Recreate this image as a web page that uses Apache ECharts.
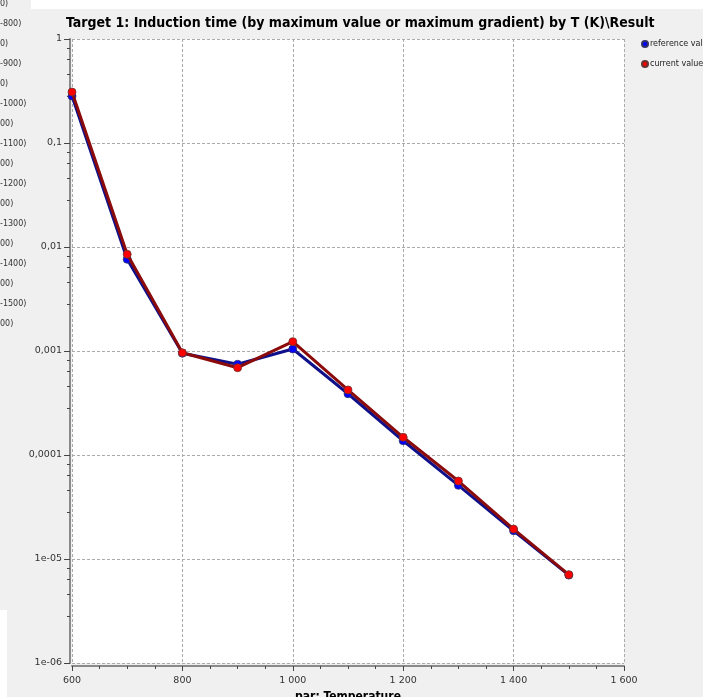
<!DOCTYPE html>
<html>
<head>
<meta charset="utf-8">
<script src="https://cdn.jsdelivr.net/npm/echarts@6/dist/echarts.min.js"></script>
<style>
html,body{margin:0;padding:0;background:#f0f0f0;}
#chart{width:703px;height:697px;}
</style>
</head>
<body>
<div id="chart"></div>
<script>
const temperatures = [600, 700, 800, 900, 1000, 1100, 1200, 1300, 1400, 1500];
const referenceValues = [0.283, 0.00762, 0.000952, 0.000745, 0.001045, 0.000388, 0.000137, 5.11e-5, 1.87e-5, 7.0e-6];
const currentValues = [0.309, 0.00851, 0.000962, 0.000691, 0.00123, 0.000422, 0.000148, 5.62e-5, 1.94e-5, 7.07e-6];
const yTickValues = [1, 0.1, 0.01, 0.001, 0.0001, 1e-5, 1e-6];
const yTickLabels = ["1", "0,1", "0,01", "0,001", "0,0001", "1e-05", "1e-06"];
const xTickValues = [600, 800, 1000, 1200, 1400, 1600];
const xTickLabels = ["600", "800", "1 000", "1 200", "1 400", "1 600"];
const sideLabels = ["0)", "-800)", "0)", "-900)", "0)", "-1000)", "00)", "-1100)", "00)", "-1200)", "00)", "-1300)", "00)", "-1400)", "00)", "-1500)", "00)"];

const chart = echarts.init(document.getElementById('chart'), null, {renderer: 'canvas'});

function yLabel(v) {
  for (let i = 0; i < yTickValues.length; i++) {
    if (Math.abs(Math.log10(v) - Math.log10(yTickValues[i])) < 1e-6) return yTickLabels[i];
  }
  return '';
}
function xLabel(v) {
  const i = xTickValues.indexOf(v);
  return i >= 0 ? xTickLabels[i] : '';
}

const graphics = [
  {type: 'rect', shape: {x: 31, y: 0, width: 672, height: 9}, style: {fill: '#ffffff'}},
  {type: 'rect', shape: {x: 0, y: 610, width: 7, height: 87}, style: {fill: '#ffffff'}}
];
sideLabels.forEach((t, i) => {
  graphics.push({
    type: 'text', x: 0, y: 0 + i * 20,
    style: {text: t, fill: '#333', font: '8px "DejaVu Sans"'}
  });
});

const lblFont = {color: '#333', fontSize: 9.5, fontFamily: 'DejaVu Sans'};

chart.setOption({
  backgroundColor: '#f0f0f0',
  animation: false,
  title: {
    text: 'Target 1: Induction time (by maximum value or maximum gradient) by T (K)\\Result',
    left: 61, top: 11,
    textStyle: {fontSize: 14, fontWeight: 'bold', fontFamily: 'DejaVu Sans Condensed', color: '#000'}
  },
  legend: {
    orient: 'vertical', left: 641, top: 40, itemGap: 12, padding: 0,
    itemWidth: 6, itemHeight: 6, icon: 'circle',
    textStyle: {fontSize: 8, fontFamily: 'DejaVu Sans', color: '#222', padding: [0, 0, 0, -3]},
    data: ['reference value', 'current value']
  },
  grid: {
    left: 72, right: 79, top: 39, bottom: 34,
    show: true, backgroundColor: '#ffffff', borderWidth: 0,
    containLabel: false, outerBoundsMode: 'none'
  },
  xAxis: {
    type: 'value', min: 600, max: 1600, interval: 200, offset: 3,
    name: 'par: Temperature', nameLocation: 'middle', nameGap: 15,
    nameTextStyle: {fontSize: 12, fontWeight: 'bold', fontFamily: 'DejaVu Sans Condensed', color: '#000'},
    axisLine: {show: true, lineStyle: {color: '#8a8a8a', width: 2}},
    axisTick: {show: true, length: 5, lineStyle: {color: '#444'}},
    minorTick: {show: true, splitNumber: 4, length: 3, lineStyle: {color: '#444'}},
    axisLabel: Object.assign({formatter: xLabel, margin: 10}, lblFont),
    splitLine: {show: true, lineStyle: {color: '#aaaaaa', type: [3, 2], width: 1}}
  },
  yAxis: {
    type: 'log', logBase: 10, min: 1e-6, max: 1, offset: 2,
    axisLine: {show: true, lineStyle: {color: '#8a8a8a', width: 2}},
    axisTick: {show: true, length: 6, lineStyle: {color: '#444'}},
    minorTick: {show: true, splitNumber: 5, length: 3, lineStyle: {color: '#444'}},
    axisLabel: Object.assign({formatter: yLabel, margin: 8}, lblFont),
    splitLine: {show: true, lineStyle: {color: '#aaaaaa', type: [3, 2], width: 1}}
  },
  series: [
    {
      name: 'reference value', type: 'line',
      data: temperatures.map((t, i) => [t, referenceValues[i]]),
      symbol: 'circle', symbolSize: 8,
      lineStyle: {color: '#10108a', width: 3},
      itemStyle: {color: '#0000ff', borderColor: '#333366', borderWidth: 0.8},
      z: 2
    },
    {
      name: 'current value', type: 'line',
      data: temperatures.map((t, i) => [t, currentValues[i]]),
      symbol: 'circle', symbolSize: 8,
      lineStyle: {color: '#8b0a0a', width: 3},
      itemStyle: {color: '#ff0000', borderColor: '#663333', borderWidth: 0.8},
      z: 3
    }
  ],
  graphic: graphics
});
</script>
</body>
</html>
